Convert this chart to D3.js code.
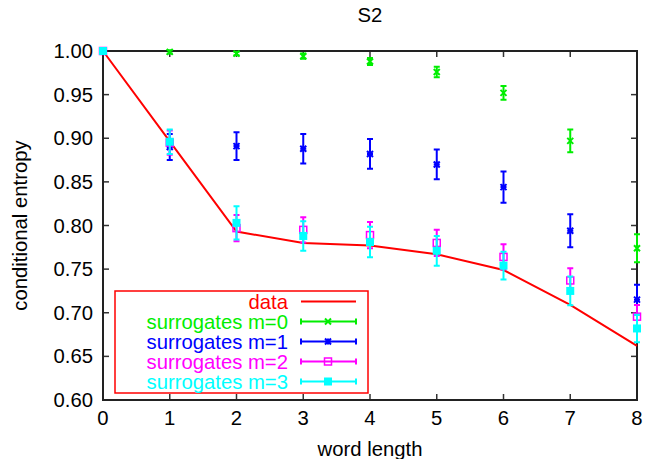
<!DOCTYPE html>
<html><head><meta charset="utf-8">
<script src="https://cdn.jsdelivr.net/npm/d3@7"></script>
<style>body{margin:0;background:#fff}svg{display:block}text{font-family:"Liberation Sans",Arial,sans-serif}</style>
</head><body>
<script>
const wordLength = [0,1,2,3,4,5,6,7,8];
const dataVals = [1.000,0.8965,0.793,0.780,0.777,0.767,0.749,0.709,0.662];
const m0Vals = [1.000,0.999,0.997,0.994,0.988,0.976,0.952,0.897,0.774];
const m0Err  = [0.000,0.002,0.002,0.003,0.004,0.006,0.008,0.013,0.016];
const m1Vals = [1.000,0.890,0.891,0.888,0.882,0.870,0.844,0.794,0.715];
const m1Err  = [0.000,0.015,0.016,0.017,0.017,0.017,0.018,0.019,0.017];
const m2Vals = [1.000,0.895,0.797,0.795,0.789,0.780,0.764,0.737,0.6955];
const m2Err  = [0.000,0.014,0.015,0.0145,0.015,0.015,0.0145,0.014,0.0134];
const m3Vals = [1.000,0.896,0.803,0.788,0.781,0.771,0.754,0.725,0.682];
const m3Err  = [0.000,0.014,0.019,0.017,0.0175,0.017,0.016,0.0165,0.0157];
const yTicks = [0.60,0.65,0.70,0.75,0.80,0.85,0.90,0.95,1.00];
const xTicks = [0,1,2,3,4,5,6,7,8];
const seriesNames = ["surrogates m=0","surrogates m=1","surrogates m=2","surrogates m=3"];

const W=650,H=459, L=103,R=637,T=51,B=400;
const svg=d3.select("body").append("svg").attr("width",W).attr("height",H);
const x=d3.scaleLinear().domain([0,8]).range([L,R]);
const y=d3.scaleLinear().domain([0.6,1.0]).range([B,T]);
const FS=20.3;

const tl=6, axc="#333";
const gA=svg.append("g");
xTicks.forEach(t=>{
  gA.append("line").attr("x1",x(t)).attr("x2",x(t)).attr("y1",B).attr("y2",B-tl).attr("stroke",axc).attr("stroke-width",1.5);
  gA.append("line").attr("x1",x(t)).attr("x2",x(t)).attr("y1",T).attr("y2",T+tl).attr("stroke",axc).attr("stroke-width",1.5);
  gA.append("text").attr("x",x(t)).attr("y",B+25).attr("text-anchor","middle").attr("font-size",FS).text(t);
});
yTicks.forEach(t=>{
  gA.append("line").attr("x1",L).attr("x2",L+tl).attr("y1",y(t)).attr("y2",y(t)).attr("stroke",axc).attr("stroke-width",1.5);
  gA.append("line").attr("x1",R).attr("x2",R-tl).attr("y1",y(t)).attr("y2",y(t)).attr("stroke",axc).attr("stroke-width",1.5);
  gA.append("text").attr("x",L-10).attr("y",y(t)).attr("dy","0.35em").attr("text-anchor","end").attr("font-size",FS).text(d3.format(".2f")(t));
});
svg.append("rect").attr("x",L).attr("y",T).attr("width",R-L).attr("height",B-T).attr("fill","none").attr("stroke","#222").attr("stroke-width",2);

svg.append("text").attr("x",(L+R)/2).attr("y",22).attr("text-anchor","middle").attr("font-size",FS).text("S2");
svg.append("text").attr("x",(L+R)/2).attr("y",456).attr("text-anchor","middle").attr("font-size",FS).text("word length");
svg.append("text").attr("transform",`translate(27,${(T+B)/2}) rotate(-90)`).attr("text-anchor","middle").attr("font-size",FS).text("conditional entropy");

function marker(g,type,cx,cy,color){
  const s=3;
  if(type==="x"||type==="star"){
    g.append("path").attr("d",`M${cx-s},${cy-s}L${cx+s},${cy+s}M${cx-s},${cy+s}L${cx+s},${cy-s}`).attr("stroke",color).attr("stroke-width",2);
    if(type==="star") g.append("path").attr("d",`M${cx-s},${cy}L${cx+s},${cy}M${cx},${cy-s}L${cx},${cy+s}`).attr("stroke",color).attr("stroke-width",2);
  } else if(type==="osq"){
    g.append("rect").attr("x",cx-3.5).attr("y",cy-3.5).attr("width",7).attr("height",7).attr("fill","none").attr("stroke",color).attr("stroke-width",1.5);
  } else if(type==="fsq"){
    g.append("rect").attr("x",cx-4).attr("y",cy-4).attr("width",8).attr("height",8).attr("fill",color);
  }
}

const line=d3.line().x((d,i)=>x(wordLength[i])).y(d=>y(d));
svg.append("path").datum(dataVals).attr("d",line).attr("fill","none").attr("stroke","#ff0000").attr("stroke-width",2);

const series=[
  {vals:m0Vals,err:m0Err,color:"#00ee00",type:"x"},
  {vals:m1Vals,err:m1Err,color:"#0000ff",type:"star"},
  {vals:m2Vals,err:m2Err,color:"#ff00ff",type:"osq"},
  {vals:m3Vals,err:m3Err,color:"#00ffff",type:"fsq"}
];
const cap=3;
series.forEach(s=>{
  const g=svg.append("g");
  s.vals.forEach((v,i)=>{
    const cx=x(wordLength[i]);
    if(s.err[i]>0){
      const y1=y(v+s.err[i]), y2=y(v-s.err[i]);
      g.append("path").attr("d",`M${cx},${y1}L${cx},${y2}M${cx-cap},${y1}L${cx+cap},${y1}M${cx-cap},${y2}L${cx+cap},${y2}`).attr("stroke",s.color).attr("stroke-width",2).attr("fill","none");
    }
    marker(g,s.type,cx,y(v),s.color);
  });
});

const lg=svg.append("g");
lg.append("rect").attr("x",115).attr("y",291).attr("width",253).attr("height",102).attr("fill","#fff").attr("stroke","#ff0000").attr("stroke-width",1.5);
const rowY=[301.5,321.5,341.5,361.5,381.5];
const tx=288, s1=301, s2=356, sm=328;
lg.append("text").attr("x",tx).attr("y",rowY[0]).attr("dy","0.35em").attr("text-anchor","end").attr("font-size",FS).attr("fill","#ff0000").text("data");
lg.append("line").attr("x1",s1).attr("x2",s2).attr("y1",rowY[0]).attr("y2",rowY[0]).attr("stroke","#ff0000").attr("stroke-width",2);
series.forEach((s,k)=>{
  const yy=rowY[k+1];
  lg.append("text").attr("x",tx).attr("y",yy).attr("dy","0.35em").attr("text-anchor","end").attr("font-size",FS).attr("fill",s.color).text(seriesNames[k]);
  lg.append("path").attr("d",`M${s1},${yy}L${s2},${yy}M${s1},${yy-cap}L${s1},${yy+cap}M${s2},${yy-cap}L${s2},${yy+cap}`).attr("stroke",s.color).attr("stroke-width",2);
  marker(lg,s.type,sm,yy,s.color);
});
</script>
</body></html>
